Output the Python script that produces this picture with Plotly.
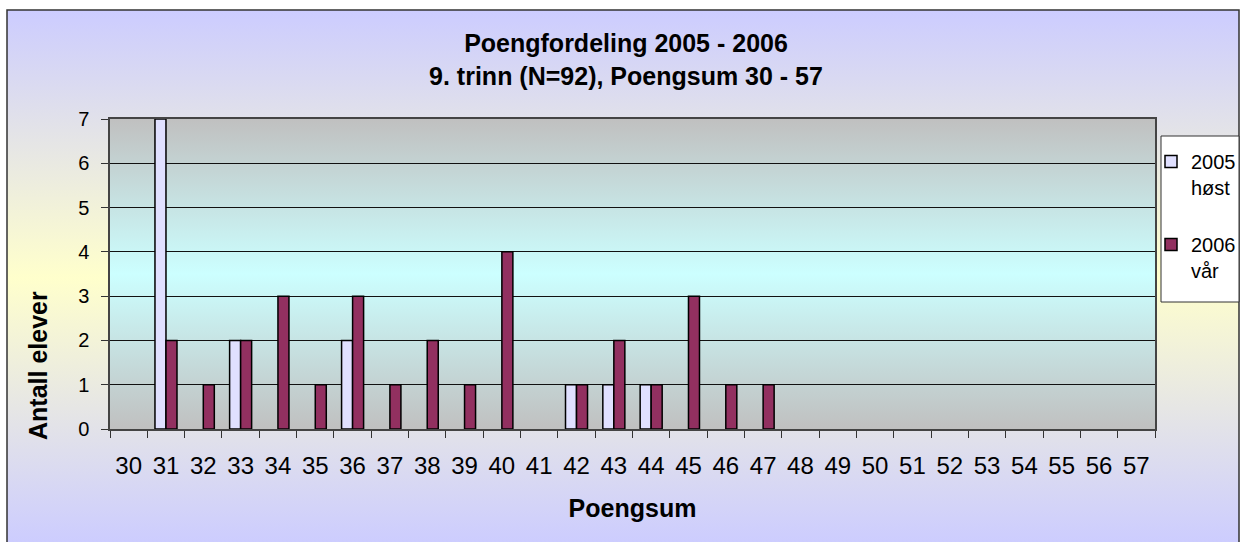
import base64
import plotly.graph_objects as go

# ---- data ----
points = [str(p) for p in range(30, 58)]
host_2005 = [0, 7, 0, 2, 0, 0, 2, 0, 0, 0, 0, 0, 1, 1, 1, 0, 0, 0, 0, 0, 0, 0, 0, 0, 0, 0, 0, 0]
var_2006 = [0, 2, 1, 2, 3, 1, 3, 1, 2, 1, 4, 0, 1, 2, 1, 3, 1, 1, 0, 0, 0, 0, 0, 0, 0, 0, 0, 0]
series_names = ["2005<br>høst", "2006<br>vår"]
title_lines = ["Poengfordeling 2005 - 2006", "9. trinn (N=92), Poengsum 30 - 57"]
y_ticks = list(range(0, 8))

W, H = 1244, 542
L, R, T, B = 110, 89, 119, 113
PW, PH = W - L - R, H - T - B
FONT = "Liberation Sans, Arial, Helvetica, sans-serif"


def px2x(px):
    return (px - L) / PW


def px2y(py):
    return (H - B - py) / PH


def nz(v):
    return [x if x != 0 else None for x in v]


def grad_svg(c_edge, c_mid):
    svg = (
        '<svg xmlns="http://www.w3.org/2000/svg" width="100" height="100" '
        'viewBox="0 0 100 100" preserveAspectRatio="none">'
        '<defs><linearGradient id="g" x1="0" y1="0" x2="0" y2="1">'
        f'<stop offset="0" stop-color="{c_edge}"/>'
        f'<stop offset="0.5" stop-color="{c_mid}"/>'
        f'<stop offset="1" stop-color="{c_edge}"/>'
        '</linearGradient></defs>'
        '<rect x="0" y="0" width="100" height="100" fill="url(#g)"/></svg>'
    )
    return "data:image/svg+xml;base64," + base64.b64encode(svg.encode()).decode()


fig = go.Figure()
fig.add_trace(go.Bar(
    x=points, y=nz(host_2005), name=series_names[0], legendgroup="a",
    marker=dict(color="#E0E0FF", line=dict(color="black", width=1.5)),
))
fig.add_trace(go.Bar(
    x=points, y=nz(var_2006), name=series_names[1], legendgroup="b",
    marker=dict(color="#923060", line=dict(color="black", width=1.5)),
))

# chart-area outer box (pixels)
ox0, ox1, oy0, oy1 = 7, 1239, 10, 545

images = [
    dict(source=grad_svg("#CCCCFF", "#FFFFCC"), xref="paper", yref="paper",
         x=px2x(ox0), y=px2y(oy0), sizex=(ox1 - ox0) / PW, sizey=(oy1 - oy0) / PH,
         xanchor="left", yanchor="top", sizing="stretch", layer="below"),
    dict(source=grad_svg("#C0C0C0", "#CCFFFF"), xref="paper", yref="paper",
         x=0, y=1, sizex=1, sizey=1,
         xanchor="left", yanchor="top", sizing="stretch", layer="below"),
]

shapes = [
    dict(type="rect", xref="paper", yref="paper", x0=px2x(ox0), x1=px2x(ox1),
         y0=px2y(oy1), y1=px2y(oy0), line=dict(color="#333333", width=1.5),
         fillcolor="rgba(0,0,0,0)", layer="above"),
    # legend frame
    dict(type="rect", xref="paper", yref="paper", x0=px2x(1161), x1=px2x(1239),
         y0=px2y(302), y1=px2y(136), line=dict(color="#333333", width=1),
         fillcolor="white", layer="above"),
]

fig.update_layout(
    width=W, height=H, autosize=False,
    margin=dict(l=L, r=R, t=T, b=B, pad=0, autoexpand=False),
    paper_bgcolor="white", plot_bgcolor="rgba(0,0,0,0)",
    barmode="group", bargap=0.41, bargroupgap=0,
    font=dict(family=FONT, color="black", size=20),
    images=images, shapes=shapes,
    title=dict(text="<br>".join(title_lines), x=626 / W, xanchor="center", xref="container",
               y=1 - 52 / H, yanchor="top", yref="container",
               font=dict(family=FONT, size=25, color="black", weight="bold")),
    legend=dict(xref="container", yref="container", x=1151 / W, xanchor="left",
                y=1 - 142 / H, yanchor="top",
                bgcolor="rgba(0,0,0,0)", borderwidth=0,
                font=dict(family=FONT, size=20, color="black"),
                valign="top", tracegroupgap=28, traceorder="grouped"),
    xaxis=dict(type="category", categoryorder="array", categoryarray=points,
               tickson="boundaries", ticks="outside", ticklen=7, tickcolor="#333333",
               showline=True, linecolor="#444444", linewidth=1.5, mirror=True,
               showgrid=False, tickfont=dict(family=FONT, size=24, color="black"),
               ticklabelstandoff=14, automargin=False,
               title=dict(text="Poengsum", standoff=22,
                          font=dict(family=FONT, size=25, color="black", weight="bold"))),
    yaxis=dict(range=[0, 7], tickvals=y_ticks, ticks="outside", ticklen=7,
               tickcolor="#333333", showline=True, linecolor="#444444", linewidth=1.5,
               mirror=True, showgrid=True, gridcolor="#111111", gridwidth=1,
               zeroline=False, tickfont=dict(family=FONT, size=20, color="black"),
               ticklabelstandoff=8, automargin=False),
    annotations=[dict(text="Antall elever", xref="paper", yref="paper",
                      x=px2x(38), y=px2y(366), xanchor="center", yanchor="middle",
                      textangle=-90, showarrow=False,
                      font=dict(family=FONT, size=25, color="black", weight="bold"))],
)

fig.write_html(
    "out.html",
    config={"responsive": False, "displayModeBar": False},
    post_script="document.body.style.margin='0px';document.body.style.overflow='hidden';",
)
